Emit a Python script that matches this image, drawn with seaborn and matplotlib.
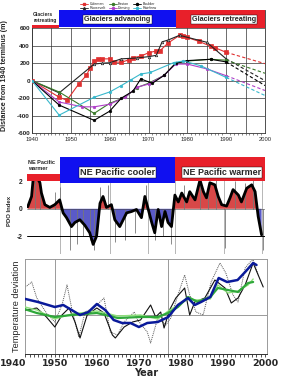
import numpy as np
import pandas as pd
import seaborn as sns
import matplotlib
matplotlib.use("Agg")
import matplotlib.pyplot as plt
from matplotlib.patches import Rectangle
from matplotlib.lines import Line2D

sns.set_theme(style="white")
plt.rcParams['font.family'] = ['Liberation Sans', 'DejaVu Sans']

# ---------------- Glacier terminus data (m from 1940 terminus) ----------------
coleman_years = [1940, 1947, 1949, 1952, 1954, 1955, 1956, 1957, 1958, 1960, 1961, 1963, 1965, 1966,
                 1968, 1970, 1972, 1973, 1975, 1978, 1979, 1980, 1983, 1986, 1987, 1990]
coleman_vals = [0, -190, -225, -40, 60, 150, 220, 245, 250, 250, 215, 210, 240, 265,
                280, 320, 340, 345, 430, 520, 510, 495, 450, 395, 380, 325]
roosevelt_years = [1940, 1947, 1956, 1958, 1960, 1963, 1967, 1970, 1972, 1973.5, 1975, 1978, 1985, 1990]
roosevelt_vals = [0, -140, 190, 200, 205, 250, 260, 275, 290, 445, 465, 520, 440, 250]
easton_years = [1940, 1947, 1956, 1960, 1964, 1967, 1970, 1974, 1977, 1980, 1986, 1990]
easton_vals = [0, -130, -375, -260, -190, -80, -30, 60, 200, 225, 245, 235]
boulder_years = [1940, 1947, 1956, 1960, 1963, 1966, 1968, 1971, 1974, 1977, 1980, 1986, 1990]
boulder_vals = [0, -280, -455, -350, -200, -120, 20, -30, 60, 200, 230, 245, 215]
deming_years = [1940, 1947, 1953, 1956, 1960, 1964, 1967, 1970, 1974, 1977, 1980, 1985, 1990]
deming_vals = [0, -245, -300, -300, -270, -190, -75, -40, 60, 190, 190, 135, 57]
rainbow_years = [1940, 1947, 1956, 1960, 1963, 1965.5, 1968, 1970.5, 1976.5, 1979, 1983.5, 1990]
rainbow_vals = [0, -395, -190, -130, -56, 10, 76, 94, 207, 226, 170, 37]
glacier_names = ["Coleman", "Roosevelt", "Easton", "Deming", "Boulder", "Rainbow"]
projection_years = [1990, 2000]
projection_2000 = {"Coleman": 195, "Roosevelt": 0, "Easton": 85, "Deming": -113,
                   "Boulder": -56, "Rainbow": -170}

# ---------------- PDO index ----------------
pdo_years = [1938.4, 1939.4, 1939.8, 1940.7, 1941.6, 1942.0, 1942.9, 1944.2, 1945.5, 1946.8, 1947.7,
             1948.6, 1949.9, 1950.8, 1952.1, 1953.4, 1954.7, 1955.6, 1956.5, 1957.4, 1958.2, 1959.1,
             1960.4, 1961.3, 1962.6, 1964.4, 1965.7, 1967.0, 1968.3, 1969.2, 1970.1, 1971.0, 1971.8,
             1972.7, 1973.6, 1974.5, 1975.3, 1976.2, 1977.1, 1978.0, 1978.9, 1980.2, 1981.0, 1982.4,
             1983.7, 1984.6, 1985.4, 1986.3, 1987.6, 1988.5, 1989.4, 1990.7, 1991.6, 1992.4, 1993.8,
             1994.6, 1996.0, 1997.3, 1998.2, 1999.0, 1999.9]
pdo_vals = [0.15, 0.9, 2.1, 2.35, 1.9, 1.15, 0.3, 0.1, 0.3, 0.65, -0.3,
            -0.65, -1.3, -1.0, -0.8, -1.2, -1.75, -2.6, -2.0, 0.4, 0.9, 0.1,
            0.3, -0.8, -1.3, -0.3, -0.2, -0.05, -0.65, 0.9, -0.05, -1.0, -1.75,
            -0.05, -1.3, -0.2, -1.0, -1.3, 1.0, 0.5, 1.15, 0.5, 1.25, 0.65,
            2.1, 1.25, 0.8, 1.9, 1.75, 0.9, 0.3, 0.2, 0.8, 1.4, 1.0,
            0.5, 1.5, 1.75, 1.25, -0.55, -1.9]
pdo_spike_years = [1940.2, 1941.6, 1945.5, 1946.8, 1949.5, 1951.3, 1953.0, 1954.7, 1955.9, 1957.4,
                   1959.5, 1961.3, 1964.0, 1966.5, 1969.6, 1971.8, 1974.0, 1976.2, 1979.5, 1983.7,
                   1985.8, 1988.0, 1990.3, 1993.0, 1995.5, 1997.6, 2000.3]
pdo_spike_vals = [2.5, 2.6, 1.2, 1.6, -3.0, -2.6, -2.0, -2.3, -3.0, 1.6,
                  1.75, -2.4, -2.3, -1.8, 1.75, -2.3, -2.0, -2.6, 1.7, 2.6,
                  1.6, 2.3, -2.85, 2.0, 1.9, 2.35, -3.0]
regime_bounds = [1938.2, 1947, 1977, 2000.8]

# ---------------- Temperature deviation ----------------
blue_years = [1942, 1946, 1950, 1952, 1956, 1958, 1960, 1962, 1964, 1966, 1968, 1970, 1972, 1974.5,
              1977, 1979.3, 1981.7, 1983.3, 1984.8, 1987, 1989, 1991, 1993.5, 1995.3, 1997.2, 1998]
blue_vals = [0.34, 0.26, 0.16, 0.20, 0.0, 0.06, 0.22, 0.10, -0.10, -0.16, -0.16, -0.24, -0.16, -0.14,
             -0.04, 0.20, 0.34, 0.20, 0.26, 0.36, 0.74, 0.66, 0.70, 0.86, 1.04, 1.00]
black_years = [1942, 1943, 1945.7, 1948, 1950, 1951.7, 1953.4, 1954.8, 1956, 1957.7, 1960, 1961.7,
               1963.7, 1964.4, 1966.5, 1968.5, 1970.4, 1972.8, 1974, 1975.2, 1976, 1977.3, 1978.8,
               1980.9, 1982.1, 1983.3, 1985.7, 1988.1, 1990.5, 1992, 1993.6, 1995.3, 1997.2, 1998.4, 1999.6]
black_vals = [0.14, 0.10, 0.14, -0.04, -0.24, 0.0, 0.14, -0.14, -0.46, 0.0, 0.14, 0.04,
              -0.40, -0.46, -0.24, -0.14, -0.10, 0.20, -0.04, 0.06, -0.26, 0.10, 0.34,
              0.54, 0.0, 0.26, 0.34, 0.70, 0.54, 0.24, 0.34, 0.60, 1.04, 0.80, 0.56]
dotted_years = [1942, 1943, 1944.5, 1945.7, 1948, 1950, 1951.7, 1952.9, 1954, 1955.7, 1957.2, 1959.3,
                1961.7, 1963.2, 1964.9, 1966.5, 1968.9, 1969.7, 1972, 1972.8, 1974.5, 1976.4, 1977.6,
                1979.3, 1980.9, 1982.1, 1983.6, 1985.3, 1987.2, 1989.3, 1990.7, 1992.4, 1993.6, 1995.3,
                1996.5, 1997.2, 1998.4]
dotted_vals = [0.34, 0.56, 0.66, 0.34, 0.04, -0.14, 0.20, 0.60, 0.14, -0.44, 0.06, 0.14,
               0.34, -0.34, -0.40, -0.14, 0.06, -0.10, -0.34, -0.56, -0.06, -0.20, -0.06,
               0.40, 0.80, 0.40, 0.06, 0.0, 0.66, 1.04, 0.84, 0.40, 0.26, 0.94,
               1.06, 1.10, 0.80]
green_years = [1942, 1945.7, 1950, 1954, 1960, 1965, 1970.4, 1974.5, 1977, 1979.3, 1981.7, 1984,
               1987, 1988.8, 1991.2, 1993.6, 1996, 1997.2]
green_vals = [0.14, 0.04, -0.04, 0.0, 0.04, -0.06, -0.04, -0.04, 0.04, 0.16, 0.36, 0.26,
              0.36, 0.54, 0.50, 0.46, 0.64, 0.66]
lgreen_vals = [0.18, 0.10, -0.08, 0.02, 0.08, -0.02, 0.0, -0.08, 0.08, 0.20, 0.32, 0.30,
               0.32, 0.60, 0.44, 0.48, 0.60, 0.72]

RED = "#e8202a"
BLUE = "#1010f0"
NARROW = ["Liberation Sans Narrow", "Liberation Sans"]

fig = plt.figure(figsize=(2.89, 3.78), dpi=100)
fig.patch.set_facecolor("white")
ax1 = fig.add_axes([32 / 289, 1 - 133 / 378, 233 / 289, 123 / 378])
ax2 = fig.add_axes([27 / 289, 1 - 254 / 378, 238 / 289, 97 / 378])
ax3 = fig.add_axes([25 / 289, 1 - 354 / 378, 242 / 289, 95 / 378])

# ====================== Panel 1: glaciers ======================
styles = {
    "Coleman": (coleman_years, coleman_vals, "#e03030", "s"),
    "Roosevelt": (roosevelt_years, roosevelt_vals, "#222222", "^"),
    "Easton": (easton_years, easton_vals, "#3a7a2a", "o"),
    "Deming": (deming_years, deming_vals, "#b040c8", "o"),
    "Boulder": (boulder_years, boulder_vals, "#000000", "o"),
    "Rainbow": (rainbow_years, rainbow_vals, "#38b8cc", "o"),
}
ax1.set_xlim(1940, 2000)
ax1.set_ylim(-600, 810)
for v in np.arange(1940, 2001, 5):
    ax1.plot([v, v], [-600, 600], color="#333333", lw=0.5, zorder=1)
for h in np.arange(-600, 601, 200):
    ax1.axhline(h, color="#333333", lw=0.5, zorder=1)

handles = []
for name in glacier_names:
    yrs, vals, col, mk = styles[name]
    ms = 2.6 if mk == "s" else 1.8
    mfc = "white" if name in ("Roosevelt",) else col
    sns.lineplot(x=yrs, y=vals, ax=ax1, color=col, lw=0.8, marker=mk, markersize=ms,
                 markerfacecolor=mfc, markeredgecolor=col, markeredgewidth=0.5, zorder=3)
    sns.lineplot(x=projection_years, y=[vals[-1], projection_2000[name]], ax=ax1, color=col,
                 lw=0.8, linestyle=(0, (3, 2)), zorder=3)
    handles.append(Line2D([0], [0], color=col, lw=0.6, marker=mk, markersize=1.5,
                          markerfacecolor=mfc, markeredgecolor=col))

# banners
ax1.add_patch(Rectangle((1940, 600), 7, 210, color=RED, zorder=4, lw=0))
ax1.add_patch(Rectangle((1947, 620), 30, 190, color=BLUE, zorder=4, lw=0))
ax1.add_patch(Rectangle((1977, 600), 23, 210, color=RED, zorder=4, lw=0))
ax1.add_patch(Rectangle((1940, 640), 7, 170, color="white", zorder=5, lw=0))
ax1.text(1940.3, 725, "Glaciers\nretreating", fontsize=3.6, fontweight="bold", va="center",
         ha="left", zorder=6, linespacing=1.3)
ax1.text(1962, 698, "Glaciers advancing", fontsize=5.2, fontweight="bold", ha="center", va="center",
         zorder=6, bbox=dict(facecolor="white", edgecolor="black", lw=0.3, pad=0.8))
ax1.text(1989.4, 698, "Glaciers retreating", fontsize=5.2, fontweight="bold", ha="center", va="center",
         zorder=6, bbox=dict(facecolor="white", edgecolor="black", lw=0.3, pad=0.8))

ax1.set_yticks(np.arange(-600, 601, 200))
ax1.set_yticklabels([str(v) for v in np.arange(-600, 601, 200)], fontsize=4.6, fontweight="bold")
ax1.set_xticks(np.arange(1940, 2001, 10))
ax1.set_xticklabels([str(v) for v in np.arange(1940, 2001, 10)], fontsize=4.2)
ax1.set_xticks(np.arange(1940, 2001, 1), minor=True)
ax1.tick_params(axis="x", which="major", length=2, width=0.5, pad=1, color="#333333")
ax1.tick_params(axis="x", which="minor", length=1.5, width=0.4, color="#333333", bottom=True)
ax1.tick_params(axis="y", length=0, pad=1.5)
ax1.set_ylabel("Distance from 1940 terminus (m)", fontsize=5.1, fontweight="bold", labelpad=2)
ax1.yaxis.set_label_coords(-0.105, 0.47)
ax1.set_xlabel("")
for s in ax1.spines.values():
    s.set_color("#333333")
    s.set_linewidth(0.6)
ax1.spines["top"].set_visible(False)

fig.legend(handles=handles, labels=glacier_names, loc="upper left",
           bbox_to_anchor=(78 / 289, 1.0), ncol=3, fontsize=2.6, frameon=False,
           handlelength=2.2, columnspacing=0.8, labelspacing=0.05, handletextpad=0.4,
           borderpad=0.1)

# ====================== Panel 2: PDO ======================
ax2.set_xlim(regime_bounds[0], regime_bounds[-1])
ax2.set_ylim(-3.3, 3.78)
py = np.array(pdo_years)
pv = np.array(pdo_vals)
ax2.fill_between(py, pv, 0, where=pv >= 0, interpolate=True, color="#d84848", lw=0, zorder=2)
ax2.fill_between(py, pv, 0, where=pv <= 0, interpolate=True, color="#5a5ac8", lw=0, zorder=2)
for v in [1947, 1960, 1970, 1977, 1990, 2000]:
    ax2.axvline(v, color="#9a9a9a", lw=0.5, zorder=1)
ax2.vlines(pdo_spike_years, 0, pdo_spike_vals, color="#777777", lw=0.6, zorder=2)
sns.lineplot(x=pdo_years, y=pdo_vals, ax=ax2, color="black", lw=2.0, zorder=4)
ax2.axhline(-2, color="black", lw=0.7, zorder=3)
ax2.axhline(0, color="#444444", lw=0.4, zorder=3)

ax2.add_patch(Rectangle((regime_bounds[0], 2.0), regime_bounds[1] - regime_bounds[0], 1.78,
                        color=RED, lw=0, zorder=5))
ax2.add_patch(Rectangle((regime_bounds[1], 1.9), regime_bounds[2] - regime_bounds[1], 1.88,
                        color=BLUE, lw=0, zorder=5))
ax2.add_patch(Rectangle((regime_bounds[2], 2.0), regime_bounds[3] - regime_bounds[2], 1.78,
                        color=RED, lw=0, zorder=5))
ax2.add_patch(Rectangle((regime_bounds[0], 2.55), regime_bounds[1] - regime_bounds[0], 1.23,
                        color="white", lw=0, zorder=6))
ax2.text(regime_bounds[0] + 0.3, 3.15, "NE Pacific\nwarmer", fontsize=4.0, fontweight="bold",
         ha="left", va="center", zorder=7, linespacing=1.4)
ax2.text(1962, 2.64, "NE Pacific cooler", fontsize=6.6, fontweight="bold", ha="center",
         va="center", zorder=7, family=NARROW,
         bbox=dict(facecolor="white", edgecolor="black", lw=0.3, pad=0.8))
ax2.text(1989.4, 2.64, "NE Pacific warmer", fontsize=6.4, fontweight="bold", ha="center",
         va="center", zorder=7, family=NARROW,
         bbox=dict(facecolor="white", edgecolor="black", lw=0.3, pad=0.8))
ax2.set_yticks([-2, 0, 2])
ax2.set_yticklabels(["-2", "0", "2"], fontsize=4.8, fontweight="bold")
ax2.set_xticks([])
ax2.tick_params(axis="y", length=0, pad=3)
ax2.set_ylabel("PDO Index", fontsize=4.3, fontweight="bold")
ax2.yaxis.set_label_coords(-0.062, 0.44)
ax2.set_xlabel("")
for s in ax2.spines.values():
    s.set_visible(False)

# ====================== Panel 3: temperature ======================
ax3.set_xlim(1942.9, 2000.5)
ax3.set_ylim(-0.78, 1.12)
ax3.axhline(0, color="#8a8a8a", lw=0.6, zorder=1)
for v in [1950, 1977]:
    ax3.axvline(v, color="#8a8a8a", lw=0.6, zorder=1)
sns.lineplot(x=dotted_years, y=dotted_vals, ax=ax3, color="#555555", lw=0.7,
             linestyle=(0, (1, 1)), zorder=2)
sns.lineplot(x=black_years, y=black_vals, ax=ax3, color="#111111", lw=0.8, zorder=3)
sns.lineplot(x=green_years, y=lgreen_vals, ax=ax3, color="#8ee07a", lw=1.0, zorder=4)
sns.lineplot(x=green_years, y=green_vals, ax=ax3, color="#2fa83a", lw=1.6, zorder=5)
sns.lineplot(x=blue_years, y=blue_vals, ax=ax3, color="#0a1a9a", lw=1.8, zorder=6)

ax3.set_yticks([])
ax3.set_xticks(np.arange(1950, 2001, 10))
ax3.set_xticklabels([str(v) for v in np.arange(1950, 2001, 10)], fontsize=6.8,
                    fontweight="bold", family="DejaVu Sans")
ax3.set_xticks(np.arange(1943, 2001, 1), minor=True)
ax3.tick_params(axis="x", which="both", length=1.8, width=0.6, color="#333333", pad=2, bottom=True)
ax3.text(1940, -0.88, "1940", fontsize=6.8, fontweight="bold",
         family="DejaVu Sans", ha="center", va="top", clip_on=False, zorder=7)
ax3.set_xlabel("Year", fontsize=7, fontweight="bold", family="DejaVu Sans", labelpad=0)
ax3.set_ylabel("Temperature deviation", fontsize=6.6, family=NARROW, labelpad=3)
for s in ax3.spines.values():
    s.set_color("#9a9a9a")
    s.set_linewidth(0.7)
ax3.spines["bottom"].set_color("#333333")

fig.savefig("out.png", dpi=100, facecolor="white")
